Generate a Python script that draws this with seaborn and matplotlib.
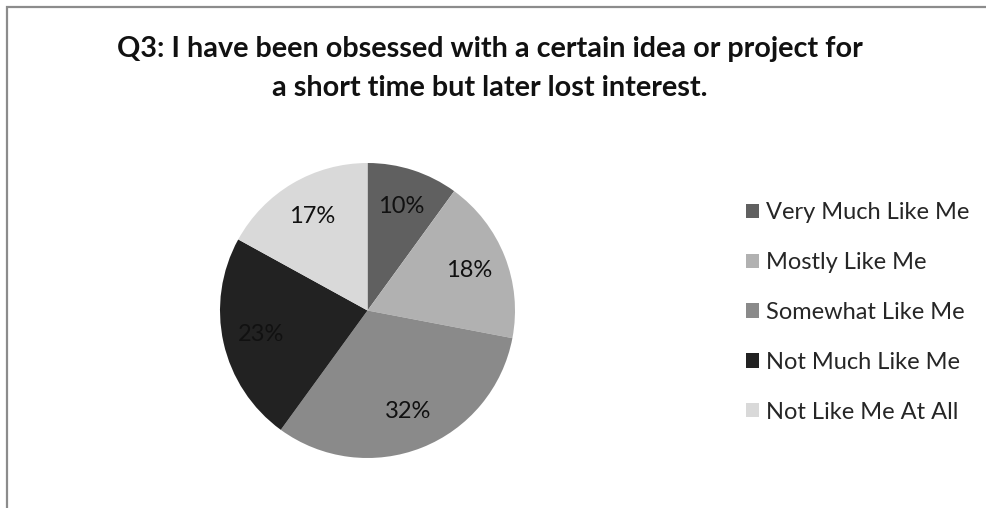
import matplotlib
matplotlib.use("Agg")
import matplotlib.pyplot as plt
import seaborn as sns
from matplotlib.patches import Patch
from matplotlib.lines import Line2D

categories = ["Very Much Like Me", "Mostly Like Me", "Somewhat Like Me",
              "Not Much Like Me", "Not Like Me At All"]
values = [10, 18, 32, 23, 17]
colors = ["#606060", "#b1b1b1", "#8a8a8a", "#222222", "#d9d9d9"]
title = "Q3: I have been obsessed with a certain idea or project for\na short time but later lost interest."

sns.set_theme(style="white")
plt.rcParams['font.family'] = ['Lato', 'DejaVu Sans']

W, H = 987, 508
fig = plt.figure(figsize=(W / 100, H / 100), dpi=100)

cx, cy, r = 367.5, 310.5, 147.5
ax = fig.add_axes([(cx - r) / W, (H - cy - r) / H, 2 * r / W, 2 * r / H])
wedges, texts, autotexts = ax.pie(
    values, colors=colors, startangle=90, counterclock=False,
    autopct=lambda p: f"{p:.0f}%", pctdistance=0.74,
    wedgeprops=dict(linewidth=0), textprops=dict(fontsize=17, color="#111111"))
ax.set_xlim(-1, 1)
ax.set_ylim(-1, 1)
ax.set_aspect("equal")
ax.axis("off")

handles = [Patch(facecolor=c, edgecolor="none") for c in colors]
fig.legend(handles, categories, loc="center left",
           bbox_to_anchor=(746 / W, 1 - 312.5 / H), frameon=False,
           fontsize=17, labelspacing=1.22, handlelength=0.56, handleheight=0.56,
           handletextpad=0.3, borderpad=0, borderaxespad=0)

fig.text(490 / W, 1 - 68.5 / H, title, ha="center", va="center",
         fontsize=20.7, fontweight="bold", color="#111111", linespacing=1.62)

border = Line2D([7 / W, 7 / W, 1], [0, 1 - 7 / H, 1 - 7 / H],
                transform=fig.transFigure, color="#8c8c8c", linewidth=1.6,
                solid_joinstyle="miter")
fig.add_artist(border)

fig.savefig("out.png", dpi=100, facecolor="white")
